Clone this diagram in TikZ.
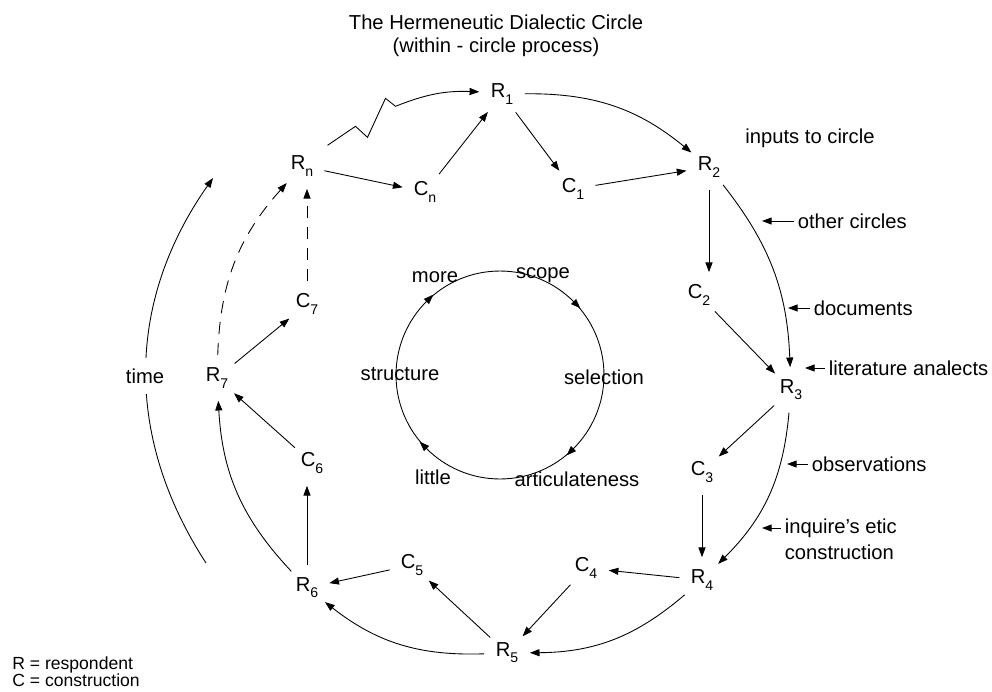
\documentclass[tikz,border=0pt]{standalone}
\usepackage{fontspec}
\setmainfont{Liberation Sans}
\usetikzlibrary{arrows.meta,decorations.markings}

\newcommand{\lo}[1]{\raisebox{-3.5pt}{\fontsize{8}{8}\selectfont #1}}

\begin{document}
\begin{tikzpicture}[
  x=0.02cm, y=-0.02cm,
  >={Triangle[length=5.5pt,width=4pt]},
  every node/.style={font=\fontsize{11.5}{13}\selectfont},
  st/.style={circle, inner sep=0pt, minimum size=0.9cm},
  lbl/.style={inner sep=2pt},
  arr/.style={->, line width=0.5pt},
  darr/.style={->, line width=0.5pt, dash pattern=on 7pt off 5pt},
  cyc/.style={line width=0.5pt, postaction={decorate}, decoration={markings,
      mark=at position 0.125 with {\arrow{<}},
      mark=at position 0.375 with {\arrow{<}},
      mark=at position 0.625 with {\arrow{<}},
      mark=at position 0.875 with {\arrow{<}}}},
]
\useasboundingbox (0,0) rectangle (992,691);

% Title
\node[align=center] (title) at (496,36) {The Hermeneutic Dialectic Circle\\(within - circle process)};

% Respondents and constructions
\node[st] (R1) at (502,94) {R\lo{1}};
\node[st] (C1) at (573,189) {C\lo{1}};
\node[st] (R2) at (709,167) {R\lo{2}};
\node[st] (C2) at (699,295) {C\lo{2}};
\node[st] (R3) at (791,390) {R\lo{3}};
\node[st] (C3) at (702,472) {C\lo{3}};
\node[st] (R4) at (702,580) {R\lo{4}};
\node[st] (C4) at (586,568) {C\lo{4}};
\node[st] (R5) at (507,653) {R\lo{5}};
\node[st] (C5) at (412,565) {C\lo{5}};
\node[st] (R6) at (307,588) {R\lo{6}};
\node[st] (C6) at (312,463) {C\lo{6}};
\node[st] (R7) at (217,378) {R\lo{7}};
\node[st] (C7) at (307,304) {C\lo{7}};
\node[st] (Rn) at (302,166) {R\lo{n}};
\node[st] (Cn) at (425,192) {C\lo{n}};

% Inner circle
\coordinate (cc) at (500,375);
\draw[cyc] (cc) circle[radius=2.08cm];
\node (more) at (435,277) {more};
\node (scope) at (543,275) {scope};
\node (struct) at (400,374) {structure};
\node (select) at (604,377) {selection};
\node (little) at (433,477) {little};
\node (artic) at (577,479) {articulateness};

% Arrows R -> C -> R
\draw[arr] (Rn) -- (Cn);
\draw[arr] (Cn) -- (R1);
\draw[arr] (R1) -- (C1);
\draw[arr] (C1) -- (R2);
\draw[arr] (R2) -- (R2 |- C2.north);
\draw[arr] (C2) -- (R3);
\draw[arr] (R3) -- (C3);
\draw[arr] (C3) -- (R4);
\draw[arr] (R4) -- (C4);
\draw[arr] (C4) -- (R5);
\draw[arr] (R5) -- (C5);
\draw[arr] (C5) -- (R6);
\draw[arr] (R6) -- (R6 |- C6.south);
\draw[arr] (C6) -- (R7);
\draw[arr] (R7) -- (C7);
\draw[darr] (C7) -- (C7 |- Rn.south);

% Arrows R -> R
\draw[arr] (R1) to[bend left=20] (R2);
\draw[arr] (R2) to[bend left=18] (R3);
\draw[arr] (R3) to[bend left=20] (R4);
\draw[arr] (R4) to[bend left=20] (R5);
\draw[arr] (R5) to[bend left=20] (R6);
\draw[arr] (R6) to[bend left=20] (R7);
\draw[darr] (R7) to[bend left=20] (Rn);
\draw[arr] ([shift={(8,-6)}]Rn.40) -- ++(28,-19) -- ++(12,11) -- ++(18,-39) -- ++(10,8) to[bend left=12] (R1);

% Time
\coordinate (t0) at (206,563);
\coordinate (t1) at (213,178);
\draw[arr] (t0) to[bend left=34] (t1);
\node[fill=white, inner xsep=2pt, inner ysep=6pt] (time) at (145,376) {time};

% Inputs to circle
\node (inputs) at (810,138) {inputs to circle};
\node[lbl, anchor=west] (oc) at (794,221) {other circles};
\draw[arr] (oc.west) -- ++(-32,0);
\node[lbl, anchor=west] (docs) at (810,308) {documents};
\draw[arr] (docs.west) -- ++(-22,0);
\node[lbl, anchor=west] (lit) at (825,368) {literature analects};
\draw[arr] (lit.west) -- ++(-20,0);
\node[lbl, anchor=west] (obs) at (808,464) {observations};
\draw[arr] (obs.west) -- ++(-21,0);
\node[lbl, anchor=west] (inq) at (781,528) {inquire’s etic};
\node[lbl, anchor=west] (inq2) at (781,552) {construction};
\draw[arr] (inq.west) -- ++(-19,0);

% Legend
\node[anchor=north west, align=left, inner sep=0pt, font=\fontsize{10}{9.8}\selectfont] (legend) at (12,656) {R = respondent\\C = construction};

\end{tikzpicture}
\end{document}
